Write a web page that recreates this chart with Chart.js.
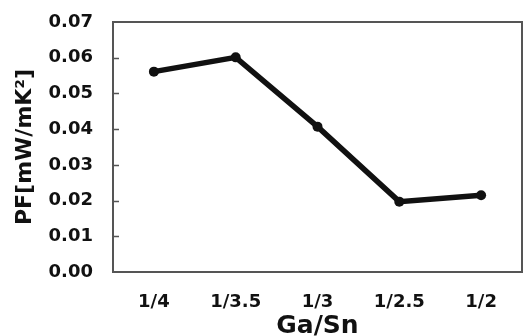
<!DOCTYPE html>
<html>
<head>
<meta charset="utf-8">
<script src="https://cdn.jsdelivr.net/npm/chart.js@4"></script>
<style>
  html, body { margin: 0; padding: 0; background: #fff; }
  #wrap { width: 524px; height: 336px; position: relative; }
</style>
</head>
<body>
<div id="wrap"><canvas id="pf-chart"></canvas></div>
<script>
  // data
  const ratios = ["1/4", "1/3.5", "1/3", "1/2.5", "1/2"];
  const pfValues = [0.0561, 0.0601, 0.0407, 0.0197, 0.0215];
  const yTicks = [0, 0.01, 0.02, 0.03, 0.04, 0.05, 0.06, 0.07];

  const FONT = "'DejaVu Sans', 'Liberation Sans', Arial, sans-serif";

  // box frame + inward tick marks on the left axis
  const framePlugin = {
    id: "frame",
    afterDraw(chart) {
      const { ctx, chartArea: a, scales } = chart;
      ctx.save();
      ctx.strokeStyle = "#555";
      ctx.lineWidth = 2;
      ctx.strokeRect(a.left, a.top, a.right - a.left, a.bottom - a.top);
      ctx.lineWidth = 1.5;
      ctx.beginPath();
      yTicks.slice(1, -1).forEach((v) => {
        const y = Math.round(scales.y.getPixelForValue(v)) + 0.5;
        ctx.moveTo(a.left, y);
        ctx.lineTo(a.left + 6, y);
      });
      ctx.stroke();
      ctx.restore();
    },
  };

  new Chart(document.getElementById("pf-chart"), {
    type: "line",
    data: {
      labels: ratios,
      datasets: [{
        data: pfValues,
        borderColor: "#111",
        backgroundColor: "#111",
        borderWidth: 5.5,
        pointRadius: 5,
        pointBackgroundColor: "#111",
        pointBorderWidth: 0,
        tension: 0,
        fill: false,
      }],
    },
    options: {
      responsive: true,
      maintainAspectRatio: false,
      animation: false,
      layout: { autoPadding: false, padding: { top: 22, right: 2, left: 0, bottom: 0 } },
      plugins: { legend: { display: false }, tooltip: { enabled: false } },
      scales: {
        x: {
          offset: true,
          grid: { display: false, drawTicks: false },
          border: { display: false },
          ticks: { padding: 20, color: "#111", font: { family: FONT, size: 18, weight: "bold" } },
          title: {
            display: true,
            text: "Ga/Sn",
            color: "#111",
            padding: 0,
            font: { family: FONT, size: 25, weight: "bold", lineHeight: 0.8 },
          },
          afterFit: (s) => { s.height = 64; s.paddingLeft = 0; s.paddingRight = 0; },
        },
        y: {
          min: 0,
          max: 0.07,
          grid: { display: false, drawTicks: false },
          border: { display: false },
          ticks: {
            stepSize: 0.01,
            padding: 20,
            color: "#111",
            font: { family: FONT, size: 18, weight: "bold" },
            callback: (v) => v.toFixed(2),
          },
          title: {
            display: true,
            text: "PF[mW/mK²]",
            color: "#111",
            padding: { top: 12, bottom: 0 },
            font: { family: FONT, size: 22, weight: "bold", lineHeight: 1.2 },
          },
          afterFit: (s) => { s.width = 113; s.paddingTop = 0; s.paddingBottom = 0; },
        },
      },
    },
    plugins: [framePlugin],
  });
</script>
</body>
</html>
